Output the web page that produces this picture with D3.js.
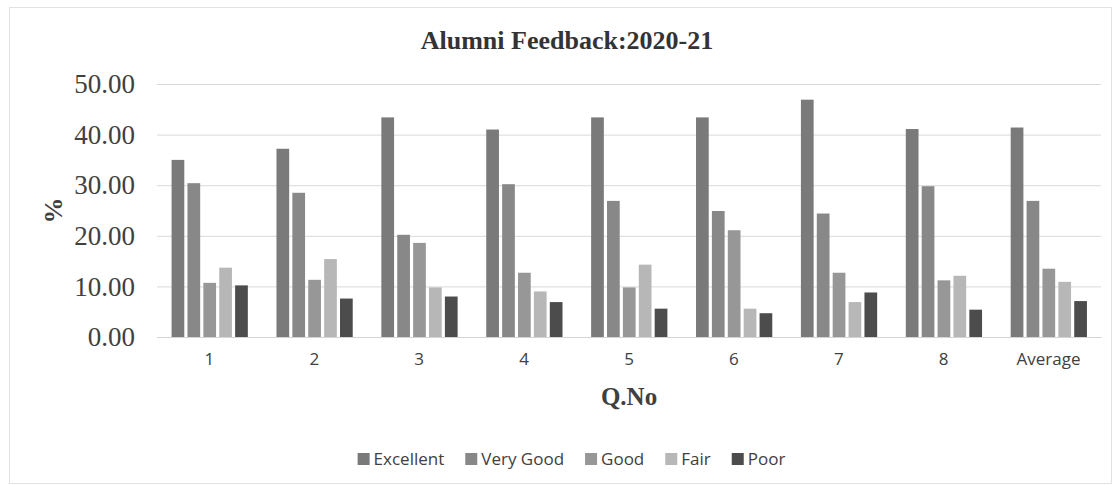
<!DOCTYPE html>
<html>
<head>
<meta charset="utf-8">
<script src="https://cdn.jsdelivr.net/npm/d3@7"></script>
<style>
  body { margin: 0; background: #fff; }
  svg { display: block; }
</style>
</head>
<body>
<div id="container"></div>
<script>
// values
const questions = ["1", "2", "3", "4", "5", "6", "7", "8", "Average"];
const ratings = ["Excellent", "Very Good", "Good", "Fair", "Poor"];
const excellent = [35.0, 37.2, 43.4, 41.0, 43.4, 43.4, 46.9, 41.1, 41.4];
const veryGood = [30.4, 28.5, 20.2, 30.2, 26.9, 24.9, 24.4, 29.8, 26.9];
const good = [10.7, 11.3, 18.6, 12.7, 9.8, 21.1, 12.7, 11.2, 13.5];
const fair = [13.7, 15.4, 9.8, 9.0, 14.3, 5.6, 6.9, 12.1, 10.9];
const poor = [10.2, 7.6, 8.0, 6.9, 5.6, 4.7, 8.8, 5.4, 7.1];
const yTicks = [0, 10, 20, 30, 40, 50];

const series = [excellent, veryGood, good, fair, poor];
const colors = ["#7a7a7a", "#888888", "#979797", "#b7b7b7", "#4c4c4c"];

const width = 1117, height = 486;
const margin = { top: 84, right: 16, bottom: 149, left: 157 };
const innerW = width - margin.left - margin.right;
const innerH = height - margin.top - margin.bottom;

const svg = d3.select("#container")
  .append("svg")
  .attr("width", width)
  .attr("height", height);

svg.append("rect")
  .attr("x", 9.5).attr("y", 7.5)
  .attr("width", 1102).attr("height", 476)
  .attr("fill", "#fff")
  .attr("stroke", "#e2e2e2");

const g = svg.append("g").attr("transform", `translate(${margin.left},${margin.top})`);

const x0 = d3.scaleBand().domain(questions).range([0, innerW]);
const x1 = d3.scaleBand().domain(ratings)
  .range([x0.bandwidth() * 0.139, x0.bandwidth() * 0.866])
  .paddingInner(0.2);
const y = d3.scaleLinear().domain([0, 50]).range([innerH, 0]);

// grid
g.append("g")
  .attr("class", "grid")
  .call(d3.axisLeft(y).tickValues(yTicks).tickSize(-innerW).tickFormat(""))
  .call(s => s.select(".domain").remove())
  .call(s => s.selectAll("line").attr("stroke", "#d9d9d9"));

// y labels
g.append("g")
  .call(d3.axisLeft(y).tickValues(yTicks).tickSize(0).tickPadding(22).tickFormat(d3.format(".2f")))
  .call(s => s.select(".domain").remove())
  .call(s => s.selectAll("text")
    .attr("font-family", "'Liberation Serif', 'Times New Roman', serif")
    .attr("font-size", 27)
    .attr("fill", "#404040"));

// bars
const groups = g.selectAll(".group")
  .data(questions)
  .join("g")
  .attr("class", "group")
  .attr("transform", d => `translate(${x0(d)},0)`);

groups.selectAll("rect")
  .data((q, i) => ratings.map((r, k) => ({ r, v: series[k][i], k })))
  .join("rect")
  .attr("x", d => x1(d.r))
  .attr("width", x1.bandwidth())
  .attr("y", d => y(d.v))
  .attr("height", d => y(0) - y(d.v))
  .attr("fill", d => colors[d.k]);

// x labels
g.append("g")
  .attr("transform", `translate(0,${innerH})`)
  .call(d3.axisBottom(x0).tickSize(0).tickPadding(16))
  .call(s => s.select(".domain").attr("stroke", "#d4d4d4"))
  .call(s => s.selectAll("text")
    .attr("font-family", "'Open Sans', sans-serif")
    .attr("font-size", 17)
    .attr("fill", "#404040"));

// titles
svg.append("text")
  .attr("x", 567).attr("y", 49)
  .attr("text-anchor", "middle")
  .attr("font-family", "'Liberation Serif', 'Times New Roman', serif")
  .attr("font-weight", "bold")
  .attr("font-size", 26)
  .attr("fill", "#333")
  .text("Alumni Feedback:2020-21");

svg.append("text")
  .attr("x", margin.left + innerW / 2).attr("y", 405)
  .attr("text-anchor", "middle")
  .attr("font-family", "'Liberation Serif', 'Times New Roman', serif")
  .attr("font-weight", "bold")
  .attr("font-size", 25)
  .attr("fill", "#404040")
  .text("Q.No");

svg.append("text")
  .attr("transform", `translate(62,${margin.top + innerH / 2}) rotate(-90)`)
  .attr("text-anchor", "middle")
  .attr("font-family", "'Liberation Serif', 'Times New Roman', serif")
  .attr("font-weight", "bold")
  .attr("font-size", 26)
  .attr("fill", "#404040")
  .text("%");

// legend, laid out from measured text widths
const legend = svg.append("g");
const gap = 21;
let lx = 0;
ratings.forEach((r, k) => {
  const it = legend.append("g");
  it.append("rect")
    .attr("x", 0).attr("y", -6)
    .attr("width", 12).attr("height", 12)
    .attr("fill", colors[k]);
  const t = it.append("text")
    .attr("x", 16).attr("dy", "0.35em")
    .attr("font-family", "'Open Sans', sans-serif")
    .attr("font-size", 17)
    .attr("fill", "#404040")
    .text(r);
  it.attr("transform", `translate(${lx},0)`);
  lx += 16 + t.node().getComputedTextLength() + gap;
});
const legendW = lx - gap;
legend.attr("transform", `translate(${571.5 - legendW / 2},459)`);
</script>
</body>
</html>
